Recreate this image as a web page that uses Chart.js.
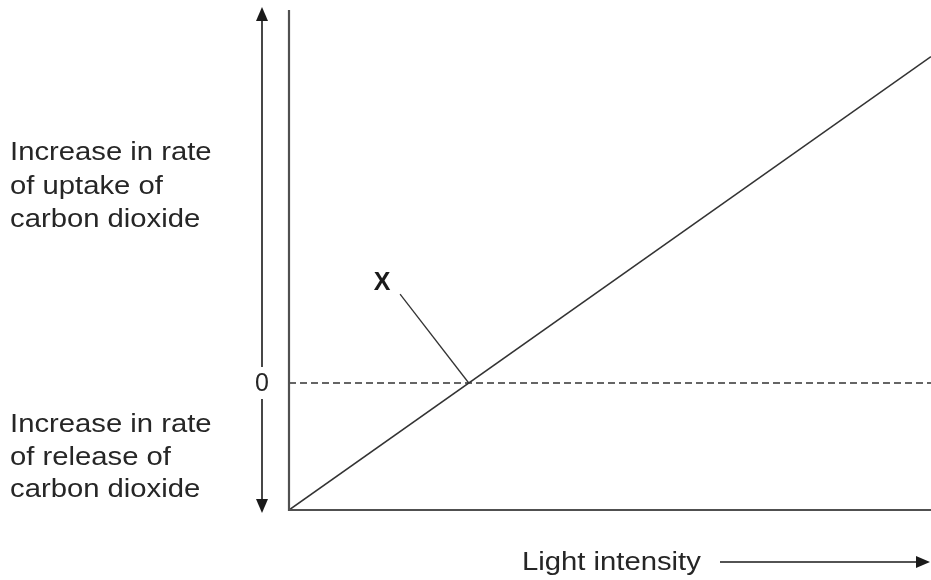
<!DOCTYPE html>
<html>
<head>
<meta charset="utf-8">
<script src="https://cdn.jsdelivr.net/npm/chart.js@4"></script>
<style>
  html, body { margin: 0; padding: 0; background: #fff; }
  #wrap { width: 931px; height: 580px; }
</style>
</head>
<body>
<div id="wrap"><canvas id="chart"></canvas></div>
<script>
// data
const lightIntensity = [0, 10];
const co2Rate = [-1, 2.57];
const zeroLine = [0, 0];
const xLabelPos = [1.45, 0.79];           // where the "X" label sits
const xLeader = [[1.73, 0.70], [2.8, 0]]; // leader from label to compensation point

const topText = ['Increase in rate', 'of uptake of', 'carbon dioxide'];
const bottomText = ['Increase in rate', 'of release of', 'carbon dioxide'];
const xTitle = 'Light intensity';

const FONT = '"Liberation Sans", Arial, sans-serif';

function arrowHead(ctx, x, y, dir) {
  // dir: 'up', 'down', 'right'
  ctx.beginPath();
  if (dir === 'up') { ctx.moveTo(x, y); ctx.lineTo(x - 6, y + 14); ctx.lineTo(x + 6, y + 14); }
  if (dir === 'down') { ctx.moveTo(x, y); ctx.lineTo(x - 6, y - 14); ctx.lineTo(x + 6, y - 14); }
  if (dir === 'right') { ctx.moveTo(x, y); ctx.lineTo(x - 14, y - 6); ctx.lineTo(x - 14, y + 6); }
  ctx.closePath();
  ctx.fill();
}

const decorations = {
  id: 'decorations',
  afterDraw(chart) {
    const ctx = chart.ctx;
    const a = chart.chartArea;
    const xs = chart.scales.x, ys = chart.scales.y;
    ctx.save();

    // axes
    ctx.strokeStyle = '#505050';
    ctx.lineWidth = 2.2;
    ctx.beginPath();
    ctx.moveTo(a.left, a.top);
    ctx.lineTo(a.left, a.bottom);
    ctx.lineTo(a.right, a.bottom);
    ctx.stroke();

    // double-headed vertical arrow
    ctx.strokeStyle = '#1a1a1a';
    ctx.fillStyle = '#1a1a1a';
    ctx.lineWidth = 1.6;
    const ax = 262;
    ctx.beginPath();
    ctx.moveTo(ax, a.top + 6);
    ctx.lineTo(ax, ys.getPixelForValue(0) - 16);
    ctx.moveTo(ax, ys.getPixelForValue(0) + 16);
    ctx.lineTo(ax, a.bottom - 6);
    ctx.stroke();
    arrowHead(ctx, ax, a.top - 3, 'up');
    arrowHead(ctx, ax, a.bottom + 3, 'down');

    // text
    ctx.fillStyle = '#262626';
    ctx.font = '25px ' + FONT;
    ctx.textBaseline = 'alphabetic';
    ctx.textAlign = 'left';
    const drawStretched = (t, x, y) => {
      ctx.save();
      ctx.translate(x, y);
      ctx.scale(1.17, 1);
      ctx.fillText(t, 0, 0);
      ctx.restore();
    };
    topText.forEach((t, i) => drawStretched(t, 10, 160 + i * 33.5));
    bottomText.forEach((t, i) => drawStretched(t, 10, 432 + i * 32.5));

    ctx.textAlign = 'center';
    ctx.textBaseline = 'middle';
    ctx.fillText('0', ax, ys.getPixelForValue(0) + 1);

    // X label and leader
    ctx.font = 'bold 25px ' + FONT;
    ctx.fillStyle = '#1a1a1a';
    ctx.fillText('X', xs.getPixelForValue(xLabelPos[0]), ys.getPixelForValue(xLabelPos[1]));
    ctx.strokeStyle = '#333';
    ctx.lineWidth = 1.3;
    ctx.beginPath();
    ctx.moveTo(xs.getPixelForValue(xLeader[0][0]), ys.getPixelForValue(xLeader[0][1]));
    ctx.lineTo(xs.getPixelForValue(xLeader[1][0]), ys.getPixelForValue(xLeader[1][1]));
    ctx.stroke();

    // x title with arrow
    ctx.font = '25px ' + FONT;
    ctx.fillStyle = '#262626';
    ctx.textAlign = 'left';
    ctx.textBaseline = 'alphabetic';
    drawStretched(xTitle, 522, 570);
    ctx.strokeStyle = '#1a1a1a';
    ctx.fillStyle = '#1a1a1a';
    ctx.lineWidth = 1.6;
    ctx.beginPath();
    ctx.moveTo(720, 562);
    ctx.lineTo(918, 562);
    ctx.stroke();
    arrowHead(ctx, 930, 562, 'right');

    ctx.restore();
  }
};

new Chart(document.getElementById('chart'), {
  type: 'scatter',
  data: {
    datasets: [
      {
        data: lightIntensity.map((x, i) => ({ x, y: co2Rate[i] })),
        showLine: true,
        borderColor: '#333',
        borderWidth: 1.6,
        pointRadius: 0
      },
      {
        data: lightIntensity.map((x, i) => ({ x, y: zeroLine[i] })),
        showLine: true,
        borderColor: '#333',
        borderWidth: 1.3,
        borderDash: [7, 4],
        pointRadius: 0
      }
    ]
  },
  options: {
    responsive: true,
    maintainAspectRatio: false,
    animation: false,
    layout: { padding: { left: 289, top: 10, right: 0, bottom: 70 } },
    plugins: { legend: { display: false }, tooltip: { enabled: false } },
    scales: {
      x: { type: 'linear', min: 0, max: 10, display: false },
      y: { type: 'linear', min: -1, max: 2.937, display: false }
    }
  },
  plugins: [decorations]
});
</script>
</body>
</html>
